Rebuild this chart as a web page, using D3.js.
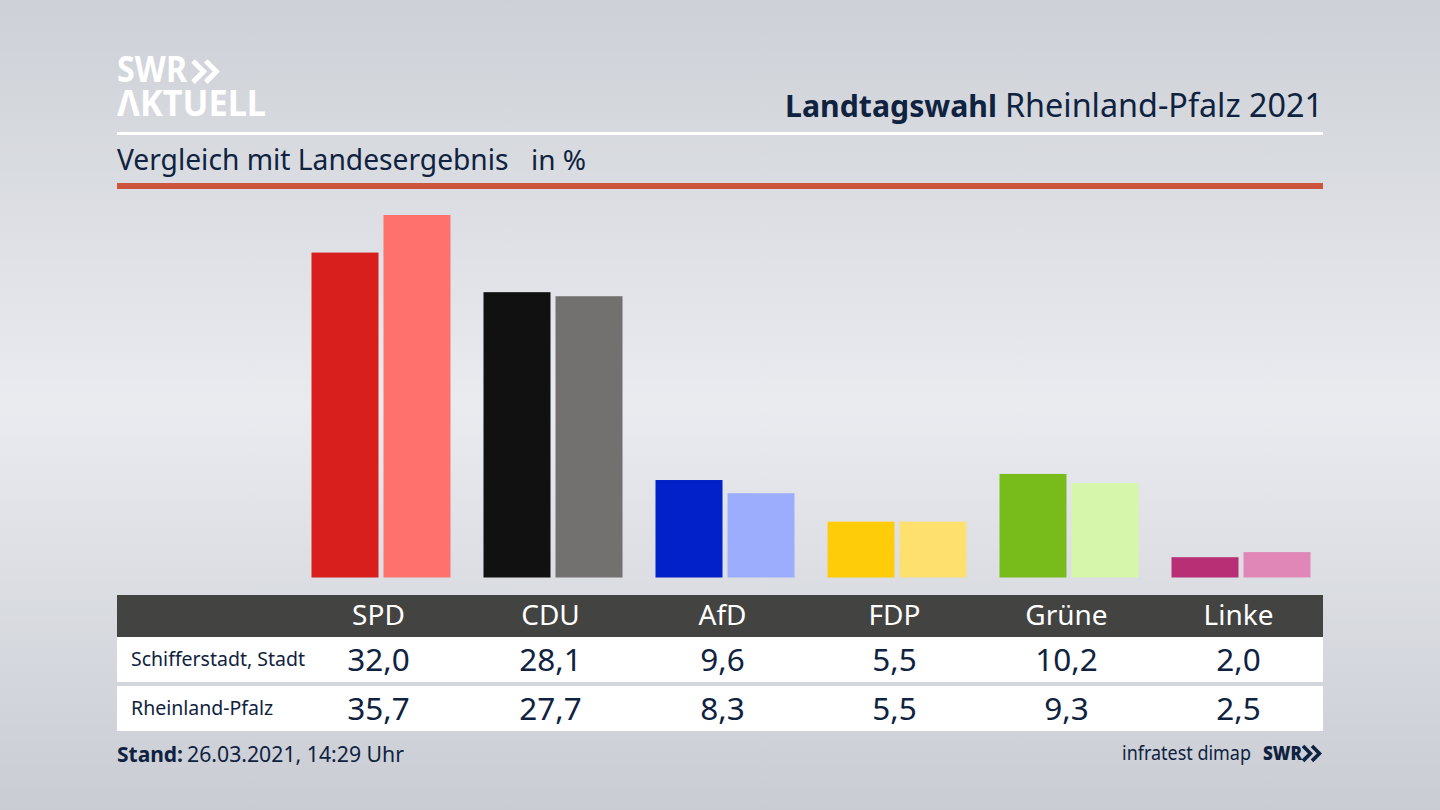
<!doctype html>
<meta charset="utf-8">
<script src="https://cdn.jsdelivr.net/npm/d3@7"></script>
<style>
html, body { margin: 0; padding: 0; overflow: hidden; }
text { font-family: "Noto Sans", sans-serif; fill: #0f2240; }
</style>
<svg id="chart" width="1440" height="810"></svg>
<script>
// values
var parties = ["SPD", "CDU", "AfD", "FDP", "Grüne", "Linke"];
var local = [32.0, 28.1, 9.6, 5.5, 10.2, 2.0];
var state = [35.7, 27.7, 8.3, 5.5, 9.3, 2.5];
var rowNames = ["Schifferstadt, Stadt", "Rheinland-Pfalz"];
var localColors = ["#d81f1d", "#111111", "#0321c8", "#ffcc0a", "#78bc1b", "#b92f76"];
var stateColors = ["#fe716d", "#72716f", "#9dadfe", "#fee06f", "#d5f6ab", "#e087b8"];

var svg = d3.select("#chart");
var left = 117, right = 1323;
var fmt = function(d) { return d.toFixed(1).replace(".", ","); };

// background
var defs = svg.append("defs");
var bg = defs.append("linearGradient").attr("id", "bg").attr("x1", 0).attr("y1", 0).attr("x2", 0).attr("y2", 1);
bg.append("stop").attr("offset", "0%").attr("stop-color", "#cdd0d6");
bg.append("stop").attr("offset", "50%").attr("stop-color", "#e9ebef");
bg.append("stop").attr("offset", "100%").attr("stop-color", "#c9ccd3");
svg.append("rect").attr("width", 1440).attr("height", 810).attr("fill", "url(#bg)");

// logo
function chevrons(g, x, y, s, color) {
  [0, 1].forEach(function(i) {
    g.append("path")
      .attr("d", "M" + (x + i * s * 0.75) + "," + y + "l" + (s * 0.62) + "," + (s * 0.62) + "l" + (-s * 0.62) + "," + (s * 0.62))
      .attr("fill", "none").attr("stroke", color).attr("stroke-width", s * 0.3);
  });
}
var logo = svg.append("g");
logo.append("text").attr("x", 117).attr("y", 82).text("SWR")
  .style("font-size", "35px").style("font-weight", 700).style("fill", "#fff")
  .attr("textLength", 70).attr("lengthAdjust", "spacingAndGlyphs");
chevrons(logo, 193, 61, 17, "#fff");
logo.append("text").attr("x", 117).attr("y", 116).text("ΛKTUELL")
  .style("font-size", "35px").style("font-weight", 700).style("fill", "#fff")
  .attr("textLength", 149).attr("lengthAdjust", "spacingAndGlyphs");

// title
svg.append("text").attr("x", 785).attr("y", 117).style("font-size", "30.5px").style("font-weight", 700)
  .attr("textLength", 212).attr("lengthAdjust", "spacingAndGlyphs").text("Landtagswahl");
svg.append("text").attr("x", 1005).attr("y", 117).style("font-size", "32px")
  .attr("textLength", 318).attr("lengthAdjust", "spacingAndGlyphs").text("Rheinland-Pfalz 2021");
svg.append("rect").attr("x", left).attr("y", 132).attr("width", right - left).attr("height", 3).attr("fill", "#fff");

svg.append("text").attr("x", left).attr("y", 170).style("font-size", "28.2px").text("Vergleich mit Landesergebnis");
svg.append("text").attr("x", 531).attr("y", 170).style("font-size", "28px").text("in %");
svg.append("rect").attr("x", left).attr("y", 183).attr("width", right - left).attr("height", 6).attr("fill", "#cc533c");

// bars
var x = d3.scaleBand().domain(parties).range([292.5, 1324.5]).paddingInner(0).paddingOuter(0);
var y = d3.scaleLinear().domain([0, 35.7]).range([577.5, 215]);
var barW = 67, gap = 5, barShift = 2.5;

svg.append("g").selectAll("rect").data(parties).join("rect")
  .attr("x", function(d) { return x(d) + x.bandwidth() / 2 + barShift - gap / 2 - barW; })
  .attr("y", function(d, i) { return y(local[i]); })
  .attr("width", barW)
  .attr("height", function(d, i) { return y(0) - y(local[i]); })
  .attr("fill", function(d, i) { return localColors[i]; });

svg.append("g").selectAll("rect").data(parties).join("rect")
  .attr("x", function(d) { return x(d) + x.bandwidth() / 2 + barShift + gap / 2; })
  .attr("y", function(d, i) { return y(state[i]); })
  .attr("width", barW)
  .attr("height", function(d, i) { return y(0) - y(state[i]); })
  .attr("fill", function(d, i) { return stateColors[i]; });

// table
svg.append("rect").attr("x", left).attr("y", 595).attr("width", right - left).attr("height", 42).attr("fill", "#434341");
svg.append("rect").attr("x", left).attr("y", 637).attr("width", right - left).attr("height", 45).attr("fill", "#fff");
svg.append("rect").attr("x", left).attr("y", 686).attr("width", right - left).attr("height", 45).attr("fill", "#fff");

svg.append("g").selectAll("text").data(parties).join("text")
  .attr("x", function(d) { return x(d) + x.bandwidth() / 2; })
  .attr("y", 625).attr("text-anchor", "middle")
  .style("font-size", "28px").style("fill", "#fff").text(function(d) { return d; });

[local, state].forEach(function(vals, r) {
  var rowY = [671, 720][r];
  svg.append("text").attr("x", 131).attr("y", rowY - 5).style("font-size", "19.5px").text(rowNames[r]);
  svg.append("g").selectAll("text").data(vals).join("text")
    .attr("x", function(d, i) { return x(parties[i]) + x.bandwidth() / 2; })
    .attr("y", rowY).attr("text-anchor", "middle")
    .style("font-size", "31.5px").text(fmt);
});

// footer
svg.append("text").attr("x", left).attr("y", 762).style("font-size", "21px").style("font-weight", 700)
  .attr("textLength", 66).attr("lengthAdjust", "spacingAndGlyphs").text("Stand:");
svg.append("text").attr("x", 187).attr("y", 762).style("font-size", "21.5px")
  .attr("textLength", 217).attr("lengthAdjust", "spacingAndGlyphs").text("26.03.2021, 14:29 Uhr");
svg.append("text").attr("x", 1122).attr("y", 760).style("font-size", "19.5px")
  .attr("textLength", 129).attr("lengthAdjust", "spacingAndGlyphs").text("infratest dimap");
svg.append("text").attr("x", 1263).attr("y", 760).style("font-size", "20px").style("font-weight", 900)
  .attr("textLength", 39).attr("lengthAdjust", "spacingAndGlyphs").text("SWR");
chevrons(svg.append("g"), 1303, 746, 12, "#0f2240");
</script>
